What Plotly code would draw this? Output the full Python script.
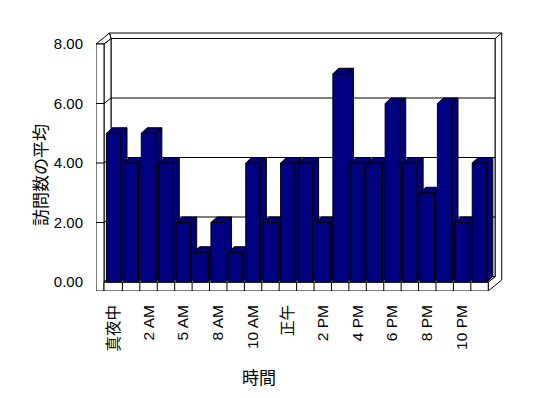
import plotly.graph_objects as go

# ---- data ----
categories = ["真夜中", "1 AM", "2 AM", "3 AM", "5 AM", "7 AM", "8 AM", "9 AM",
              "10 AM", "11 AM", "正午", "1 PM", "2 PM", "3 PM", "4 PM", "5 PM",
              "6 PM", "7 PM", "8 PM", "9 PM", "10 PM", "11 PM"]
values = [5, 4, 5, 4, 2, 1, 2, 1, 4, 2, 4, 4, 2, 7, 4, 4, 6, 4, 3, 6, 2, 4]
y_ticks = [0, 2, 4, 6, 8]
x_title = "時間"
y_title = "訪問数の平均"

# ---- geometry (pseudo-3D look, in axis units) ----
OFF = 8                                   # page body margin
W, H = 548 - OFF, 398 - OFF
L, R, T, B = 96 - OFF, 510 - OFF, 25 - OFF, 291 - OFF   # plot area in px
PXU = 17.42                              # px per category
PYU = 29.75                              # px per value unit
N = len(categories)
X0, X1 = -0.5, N - 0.5
YMAX = y_ticks[-1]
WALL_OUT = X0 - 9 / PXU
WALL_IN = X0 - 1 / PXU
FT = 9 / PYU                             # floor thickness
DXI, DYI = 7 / PXU, 5.5 / PYU            # inner back wall offset
DXO, DYO = 13.5 / PXU, 11 / PYU          # outer back wall offset
DXB, DYB = 6 / PXU, 5.5 / PYU            # bar depth
HW = 7.3 / PXU                           # half bar width

xr = [WALL_OUT, WALL_OUT + (R - L) / PXU]
yr = [-FT, -FT + (B - T) / PYU]

NAVY = "#000080"
fig = go.Figure()


def poly(xs, ys, fill="white", width=1):
    fig.add_trace(go.Scatter(x=xs, y=ys, mode="lines", fill="toself",
                             fillcolor=fill, line=dict(color="black", width=width),
                             hoverinfo="skip", showlegend=False))


def line(xs, ys):
    fig.add_trace(go.Scatter(x=xs, y=ys, mode="lines",
                             line=dict(color="black", width=1),
                             hoverinfo="skip", showlegend=False))


# back wall inner face
poly([WALL_IN + DXI, X1 + DXI, X1 + DXI, WALL_IN + DXI, WALL_IN + DXI],
     [DYI, DYI, YMAX + DYI, YMAX + DYI, DYI])
# back wall top face
poly([WALL_IN + DXI, X1 + DXI, X1 + DXO, WALL_OUT + DXO, WALL_IN + DXI],
     [YMAX + DYI, YMAX + DYI, YMAX + DYO, YMAX + DYO, YMAX + DYI])
# right end (back wall + floor)
poly([X1, X1 + DXI, X1 + DXI, X1 + DXO, X1 + DXO, X1, X1],
     [0, DYI, YMAX + DYI, YMAX + DYO, -FT + DYO, -FT, 0])
# left wall inner face
poly([WALL_IN, WALL_IN + DXI, WALL_IN + DXI, WALL_IN, WALL_IN],
     [0, DYI, YMAX + DYI, YMAX, 0])
# left wall top face
poly([WALL_OUT, WALL_IN, WALL_IN + DXI, WALL_OUT + DXO, WALL_OUT],
     [YMAX, YMAX, YMAX + DYI, YMAX + DYO, YMAX])
# left wall front face
poly([WALL_OUT, WALL_IN, WALL_IN, WALL_OUT, WALL_OUT],
     [-FT, -FT, YMAX, YMAX, -FT])
# floor front face
poly([WALL_IN, X1, X1, WALL_IN, WALL_IN], [-FT, -FT, 0, 0, -FT])
# floor top
poly([WALL_IN, X1, X1 + DXI, WALL_IN + DXI, WALL_IN], [0, 0, DYI, DYI, 0])
# floor category dividers
dx, dy = [], []
for i in range(N - 1):
    dx += [i + 0.5, i + 0.5, None]
    dy += [-FT, 0, None]
line(dx, dy)
# gridlines
gx, gy = [], []
for v in y_ticks[1:-1]:
    gx += [WALL_OUT, WALL_IN, WALL_IN + DXI, X1 + DXI, None]
    gy += [v, v, v + DYI, v + DYI, None]
line(gx, gy)

# bars
for i, v in enumerate(values):
    xa, xb = i - HW, i + HW
    xs = [xa, xb, xb, xa, xa, None,
          xa, xb, xb + DXB, xa + DXB, xa, None,
          xb, xb + DXB, xb + DXB, xb, xb]
    ys = [0, 0, v, v, 0, None,
          v, v, v + DYB, v + DYB, v, None,
          0, DYB, v + DYB, v, 0]
    fig.add_trace(go.Scatter(x=xs, y=ys, mode="lines", fill="toself",
                             fillcolor=NAVY, line=dict(color="black", width=1),
                             name=categories[i], showlegend=False,
                             hovertemplate=f"{categories[i]}: {v:.2f}<extra></extra>"))


FONT = "Liberation Sans, Arial, Noto Sans CJK JP, sans-serif"
fig.update_layout(
    width=W, height=H,
    margin=dict(l=L, r=W - R, t=T, b=H - B, pad=0),
    paper_bgcolor="white", plot_bgcolor="white",
    font=dict(family=FONT, color="black", size=14),
    xaxis=dict(range=xr, showgrid=False, zeroline=False, showline=False,
               tickmode="array", tickvals=list(range(0, N, 2)),
               ticktext=[categories[i] for i in range(0, N, 2)],
               tickangle=-90, ticks="", ticklabelstandoff=10,
               tickfont=dict(size=15.5, family=FONT)),
    yaxis=dict(range=yr, showgrid=False, zeroline=False, showline=False,
               tickmode="array", tickvals=y_ticks, tickformat=".2f",
               ticks="", ticklabelstandoff=12,
               tickfont=dict(size=15, family=FONT)),
    annotations=[
        dict(text=x_title, xref="paper", yref="paper",
             x=(259 - OFF - L) / (R - L), y=(B - (376 - OFF)) / (B - T),
             xanchor="center", yanchor="middle",
             showarrow=False, font=dict(size=17, family="Noto Sans CJK JP")),
        dict(text=y_title, xref="paper", yref="paper",
             x=(39 - OFF - L) / (R - L), y=(B - (175 - OFF)) / (B - T),
             xanchor="center", yanchor="middle", textangle=-90,
             showarrow=False, font=dict(size=17, family="Noto Sans CJK JP")),
    ],
)

fig.write_html("out.html")
